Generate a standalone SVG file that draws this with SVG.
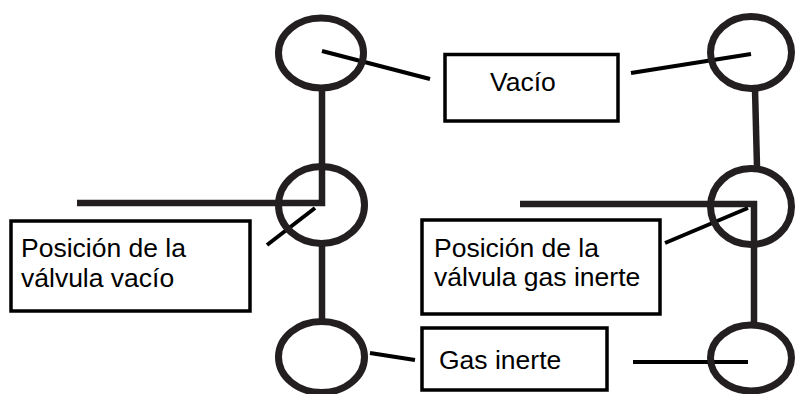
<svg xmlns="http://www.w3.org/2000/svg" width="795" height="394" viewBox="0 0 795 394">
<style>
.valve{fill:none;stroke:#231f20;stroke-width:7}
.pipe{fill:none;stroke:#231f20;stroke-width:6.5;stroke-linejoin:miter;stroke-linecap:butt}
.lead{fill:none;stroke:#000;stroke-width:4;stroke-linecap:butt}
.box{fill:#fff;stroke:#000;stroke-width:3.5}
.lbl{font-family:"Liberation Sans",Arial,sans-serif;font-size:26.5px;fill:#000}
</style>
<rect width="795" height="394" fill="#fff"/>
<g id="connectors">
<polyline class="pipe" points="322,88 322,203 77,203"/>
<line class="pipe" x1="322" y1="245" x2="322" y2="321"/>
<line class="pipe" x1="755" y1="89" x2="757" y2="167"/>
<polyline class="pipe" points="520,204 754,204 754,324"/>
<line class="lead" x1="322" y1="51" x2="430" y2="79"/>
<line class="lead" x1="631" y1="73" x2="751" y2="54"/>
<line class="lead" x1="315" y1="208" x2="267" y2="245"/>
<line class="lead" x1="748" y1="208" x2="665" y2="243"/>
<line class="lead" x1="370" y1="353" x2="415" y2="360"/>
<line class="lead" x1="633" y1="362" x2="748" y2="362"/>
</g>
<g id="valve-left-top"><ellipse class="valve" cx="321" cy="53" rx="42.5" ry="35"/></g>
<g id="valve-left-mid"><ellipse class="valve" cx="321.5" cy="205" rx="43" ry="38.5"/></g>
<g id="valve-left-bottom"><ellipse class="valve" cx="321.5" cy="357" rx="43" ry="35.5"/></g>
<g id="valve-right-top"><ellipse class="valve" cx="751" cy="52.5" rx="40.5" ry="36"/></g>
<g id="valve-right-mid"><ellipse class="valve" cx="751" cy="206.5" rx="40.5" ry="38"/></g>
<g id="valve-right-bottom"><ellipse class="valve" cx="751" cy="358" rx="40.5" ry="33"/></g>
<g id="box-vacio">
<rect class="box" x="445" y="54.5" width="173" height="66.5"/>
<text class="lbl" x="490" y="91">Vacío</text>
</g>
<g id="box-pos-vacio">
<rect class="box" x="11" y="221" width="239" height="90"/>
<text class="lbl" x="21" y="257">Posición de la</text>
<text class="lbl" x="21" y="287">válvula vacío</text>
</g>
<g id="box-pos-gas">
<rect class="box" x="422" y="220" width="238" height="94"/>
<text class="lbl" x="434" y="257">Posición de la</text>
<text class="lbl" x="434" y="286">válvula gas inerte</text>
</g>
<g id="box-gas">
<rect class="box" x="422" y="328" width="185" height="62"/>
<text class="lbl" x="439" y="369">Gas inerte</text>
</g>
</svg>
